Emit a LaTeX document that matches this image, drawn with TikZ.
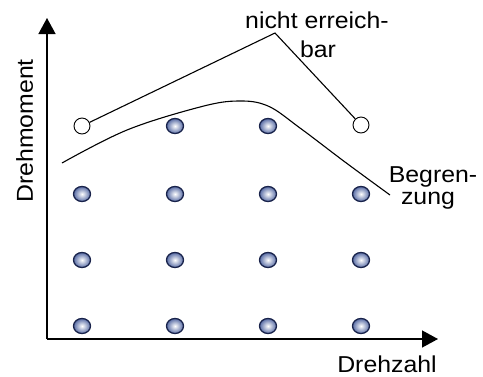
\documentclass[tikz,border=0pt]{standalone}
\usepackage{fontspec}
\setmainfont{Liberation Sans}[FakeStretch=1.08]
\usetikzlibrary{arrows.meta,shapes.geometric}
\definecolor{dotouter}{RGB}{88,108,165}
\definecolor{dotline}{RGB}{25,35,75}
\tikzset{
  axis/.style={line width=1.4pt,-{Triangle[length=16pt,width=17pt]}},
  lbl/.style={inner sep=0pt,font=\fontsize{23}{27}\selectfont},
  dot/.style={ellipse,minimum width=17pt,minimum height=15pt,inner sep=0pt,
    draw=dotline,line width=1.3pt,inner color=white,outer color=dotouter},
  opendot/.style={circle,minimum width=16pt,minimum height=15pt,inner sep=0pt,
    draw=black,line width=0.9pt,fill=white},
  thin/.style={line width=1.1pt}
}
\begin{document}
\begin{tikzpicture}[x=1pt,y=-1pt]
\useasboundingbox (0,0) rectangle (483,376);
\coordinate (o) at (47,339);
\coordinate (ytip) at (47,18);
\coordinate (xtip) at (438,339);
\draw[axis] (o) -- (ytip);
\draw[axis] (o) -- (xtip);
% dots
\foreach \c/\x in {1/82,2/175,3/268,4/361}{
  \foreach \r/\y in {2/194,3/260,4/326}{
    \node[dot] (d\c\r) at (\x,\y) {};
  }
}
\node[dot] (d21) at (175,126) {};
\node[dot] (d31) at (268,126) {};
\node[opendot] (d11) at (82,126) {};
\node[opendot] (d41) at (361,125) {};
% unreachable
\coordinate (peak) at (275,33);
\draw[thin] (d11) -- (peak) -- (d41);
% limit curve
\draw[thin] plot[smooth,tension=0.6] coordinates {(62,163) (127,130) (200,107) (238,101) (268,106) (300,128) (345,162) (390,195)};
% labels
\node[lbl,anchor=base] (t1) at (317,28) {nicht erreich-};
\node[lbl,anchor=base] (t2) at (318,57) {bar};
\node[lbl,anchor=base] (t3) at (433,182) {Begren-};
\node[lbl,anchor=base] (t4) at (428,204) {zung};
\node[lbl,anchor=base] (t5) at (387,372) {Drehzahl};
\node[lbl,anchor=base,rotate=90] (t6) at (33,131) {Drehmoment};
\end{tikzpicture}
\end{document}
